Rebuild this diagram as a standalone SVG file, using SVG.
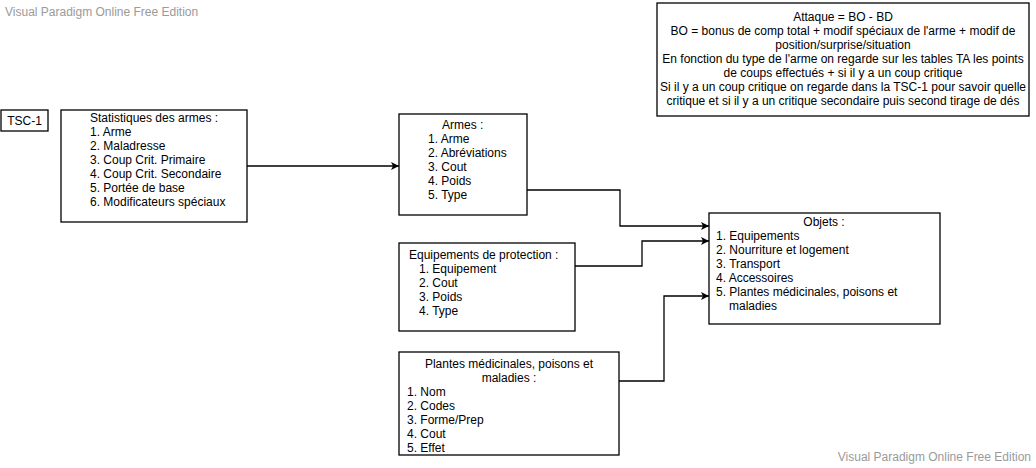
<svg xmlns="http://www.w3.org/2000/svg" width="1036" height="468" viewBox="0 0 1036 468">
<defs>
<style>
.box{fill:#fff;stroke:#000;stroke-width:1.3}
.t{font-family:"Liberation Sans",Arial,sans-serif;font-size:12px;fill:#000}
.c{text-anchor:middle}
.wm{font-family:"Liberation Sans",Arial,sans-serif;font-size:12px;fill:#9a9a9a}
.edge{fill:none;stroke:#000;stroke-width:1.3}
</style>
<marker id="arr" viewBox="0 0 10 10" refX="10" refY="5" markerWidth="8" markerHeight="8" markerUnits="userSpaceOnUse" orient="auto">
<path d="M0,0 L10,5 L0,10 L2.5,5 Z" fill="#000"/>
</marker>
</defs>
<rect width="1036" height="468" fill="#fff"/>
<text class="wm" x="5" y="16">Visual Paradigm Online Free Edition</text>
<text class="wm" x="1031" y="461" text-anchor="end">Visual Paradigm Online Free Edition</text>

<g id="connectors">
<path class="edge" d="M247,166 L399,166" marker-end="url(#arr)"/>
<path class="edge" d="M527,190 L620,190 L620,226 L709,226" marker-end="url(#arr)"/>
<path class="edge" d="M575,266 L642,266 L642,241 L709,241" marker-end="url(#arr)"/>
<path class="edge" d="M619,381 L664,381 L664,296 L709,296" marker-end="url(#arr)"/>
</g>

<g id="tsc1">
<rect class="box" x="1" y="110" width="47" height="21"/>
<text class="t c" x="24.5" y="125">TSC-1</text>
</g>

<g id="stats">
<rect class="box" x="61" y="110" width="186" height="112"/>
<text class="t" x="90" y="122">Statistiques des armes :</text>
<text class="t" x="90" y="136">1. Arme</text>
<text class="t" x="90" y="150">2. Maladresse</text>
<text class="t" x="90" y="164">3. Coup Crit. Primaire</text>
<text class="t" x="90" y="178">4. Coup Crit. Secondaire</text>
<text class="t" x="90" y="192">5. Portée de base</text>
<text class="t" x="90" y="206">6. Modificateurs spéciaux</text>
</g>

<g id="armes">
<rect class="box" x="399" y="114" width="128" height="101"/>
<text class="t" x="442" y="129">Armes :</text>
<text class="t" x="428" y="143">1. Arme</text>
<text class="t" x="428" y="157">2. Abréviations</text>
<text class="t" x="428" y="171">3. Cout</text>
<text class="t" x="428" y="185">4. Poids</text>
<text class="t" x="428" y="199">5. Type</text>
</g>

<g id="equipements">
<rect class="box" x="399" y="243" width="176" height="88"/>
<text class="t" x="409" y="259">Equipements de protection :</text>
<text class="t" x="419" y="273">1. Equipement</text>
<text class="t" x="419" y="287">2. Cout</text>
<text class="t" x="419" y="301">3. Poids</text>
<text class="t" x="419" y="315">4. Type</text>
</g>

<g id="plantes">
<rect class="box" x="399" y="352" width="220" height="103"/>
<text class="t c" x="509" y="368">Plantes médicinales, poisons et</text>
<text class="t c" x="509" y="382">maladies :</text>
<text class="t" x="407" y="396">1. Nom</text>
<text class="t" x="407" y="410">2. Codes</text>
<text class="t" x="407" y="424">3. Forme/Prep</text>
<text class="t" x="407" y="438">4. Cout</text>
<text class="t" x="407" y="452">5. Effet</text>
</g>

<g id="objets">
<rect class="box" x="709" y="213" width="231" height="111"/>
<text class="t c" x="824" y="226">Objets :</text>
<text class="t" x="716" y="240">1. Equipements</text>
<text class="t" x="716" y="254">2. Nourriture et logement</text>
<text class="t" x="716" y="268">3. Transport</text>
<text class="t" x="716" y="282">4. Accessoires</text>
<text class="t" x="716" y="296">5. Plantes médicinales, poisons et</text>
<text class="t" x="729" y="310">maladies</text>
</g>

<g id="note">
<rect class="box" x="657" y="3" width="372" height="113"/>
<text class="t c" x="843" y="21">Attaque = BO - BD</text>
<text class="t c" x="843" y="35">BO = bonus de comp total + modif spéciaux de l'arme + modif de</text>
<text class="t c" x="843" y="49">position/surprise/situation</text>
<text class="t c" x="843" y="63">En fonction du type de l'arme on regarde sur les tables TA les points</text>
<text class="t c" x="843" y="77">de coups effectués + si il y a un coup critique</text>
<text class="t c" x="843" y="91">Si il y a un coup critique on regarde dans la TSC-1 pour savoir quelle</text>
<text class="t c" x="843" y="105">critique et si il y a un critique secondaire puis second tirage de dés</text>
</g>
</svg>
